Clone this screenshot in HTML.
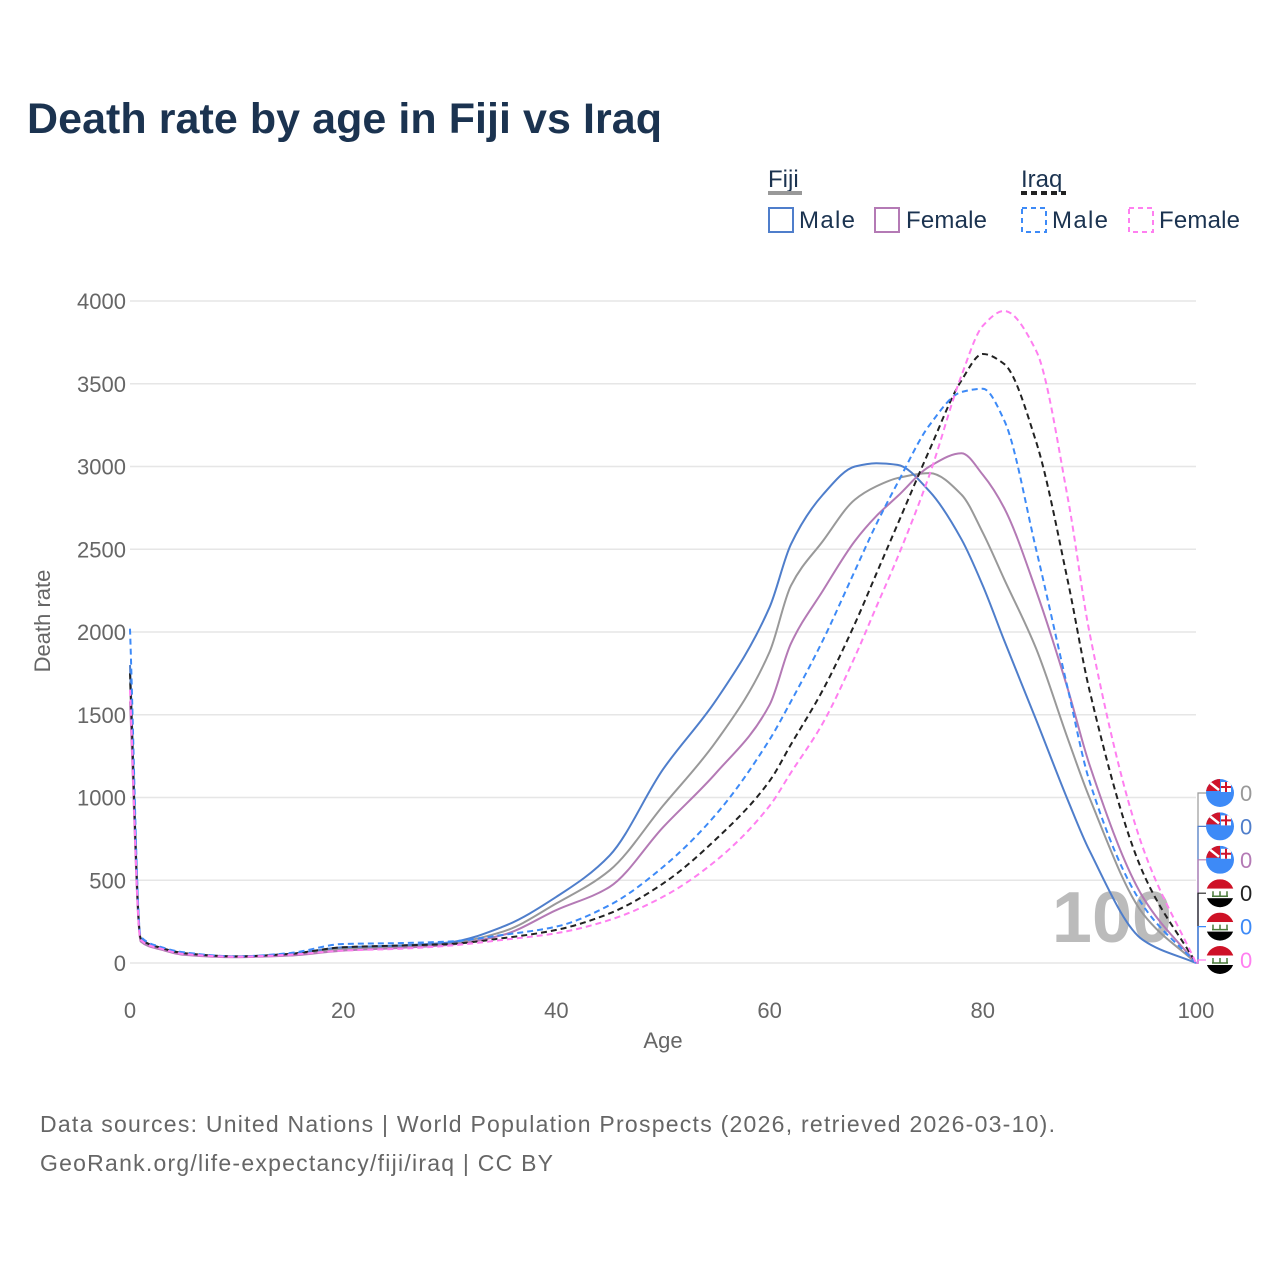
<!DOCTYPE html>
<html><head><meta charset="utf-8"><style>
body{margin:0;background:#fff;width:1280px;height:1280px;overflow:hidden;font-family:"Liberation Sans",sans-serif}
</style></head><body>
<svg width="1280" height="1280" xmlns="http://www.w3.org/2000/svg" font-family="Liberation Sans, sans-serif">
<defs><clipPath id="cc"><circle cx="0" cy="0" r="14"/></clipPath></defs>
<text x="27" y="133" font-size="43" font-weight="bold" fill="#1b3350" textLength="635">Death rate by age in Fiji vs Iraq</text>
<g fill="#1b3350" font-size="24">
<text x="768" y="187">Fiji</text>
<line x1="768" y1="193" x2="802" y2="193" stroke="#999" stroke-width="4"/>
<text x="1021" y="187">Iraq</text>
<line x1="1021" y1="193" x2="1066" y2="193" stroke="#222" stroke-width="4" stroke-dasharray="6,4"/>
<g><rect x="769" y="208" width="24" height="24" fill="none" stroke="#4f7ecb" stroke-width="2"/><text x="799" y="228" textLength="56">Male</text></g>
<g><rect x="875" y="208" width="24" height="24" fill="none" stroke="#b47ab5" stroke-width="2"/><text x="906" y="228" textLength="81">Female</text></g>
<g><rect x="1022" y="208" width="24" height="24" fill="none" stroke="#3d8af7" stroke-width="2" stroke-dasharray="5,4"/><text x="1052" y="228" textLength="56">Male</text></g>
<g><rect x="1129" y="208" width="24" height="24" fill="none" stroke="#ff7ff0" stroke-width="2" stroke-dasharray="5,4"/><text x="1159" y="228" textLength="81">Female</text></g>
</g>
<g id="grid"></g>
<text x="1112" y="942" font-size="72" font-weight="bold" fill="#bbb" text-anchor="middle">100</text>
<g id="lines"></g>
<g id="flags"></g>
<text x="663" y="1048" font-size="22" fill="#666" text-anchor="middle">Age</text>
<text transform="translate(50,621) rotate(-90)" font-size="22" fill="#666" text-anchor="middle">Death rate</text>
<text x="40" y="1132" font-size="23" fill="#666" textLength="1015">Data sources: United Nations | World Population Prospects (2026, retrieved 2026-03-10).</text>
<text x="40" y="1171" font-size="23" fill="#666" textLength="513">GeoRank.org/life-expectancy/fiji/iraq | CC BY</text>
</svg>
<script>
const ages=[0,1,3,5,10,15,20,25,30,35,40,45,50,55,60,62,65,68,70,72,75,78,80,82,85,88,90,95,100];
const fijiMale=[1800,150,90,60,40,55,95,105,125,220,400,650,1170,1590,2150,2530,2830,3000,3020,3010,2850,2560,2280,1950,1470,980,680,140,0];
const fijiTotal=[1700,140,85,55,38,50,85,100,120,190,360,560,950,1340,1880,2280,2550,2800,2880,2930,2960,2830,2600,2320,1900,1350,1000,300,0];
const fijiFemale=[1580,130,80,50,35,45,75,90,110,170,320,460,820,1150,1560,1930,2250,2550,2700,2820,3000,3080,2950,2750,2250,1650,1200,400,0];
const iraqTotal=[1750,150,90,60,40,55,95,105,115,150,200,300,480,750,1100,1320,1650,2050,2350,2650,3100,3520,3680,3620,3150,2300,1650,550,0];
const iraqMale=[2020,160,95,65,40,60,115,120,130,170,220,350,580,900,1350,1580,1950,2370,2650,2900,3250,3450,3470,3280,2500,1650,1100,350,0];
const iraqFemale=[1650,140,85,55,38,50,75,85,105,140,180,260,400,620,950,1150,1450,1850,2150,2450,2950,3550,3850,3940,3700,2800,2000,700,0];
const yTicks=[0,500,1000,1500,2000,2500,3000,3500,4000];
const xTicks=[0,20,40,60,80,100];
const endLabels=["0","0","0","0","0","0"];
const NS="http://www.w3.org/2000/svg";
const X=a=>130+a*10.66, Y=v=>963-v*0.1655;
function mk(t,at,p){const e=document.createElementNS(NS,t);for(const k in at)e.setAttribute(k,at[k]);p.appendChild(e);return e;}
const grid=document.getElementById('grid');
yTicks.forEach(v=>{
 const l=mk('line',{x1:130,x2:1196,y1:Y(v),y2:Y(v),stroke:'#e6e6e6','stroke-width':1.5},grid);
 
 
 const t=mk('text',{x:126,y:Y(v)+8,'font-size':22,fill:'#666','text-anchor':'end'},grid);t.textContent=v;
 
 
});
xTicks.forEach(v=>{
 const t=mk('text',{x:X(v),y:1018,'font-size':22,fill:'#666','text-anchor':'middle'},grid);t.textContent=v;
 
 
});
function monotone(xs,ys){
 const n=xs.length,d=[],m=[];
 for(let i=0;i<n-1;i++)d.push((ys[i+1]-ys[i])/(xs[i+1]-xs[i]));
 m[0]=d[0];m[n-1]=d[n-2];
 for(let i=1;i<n-1;i++){if(d[i-1]*d[i]<=0)m[i]=0;else{const h0=xs[i]-xs[i-1],h1=xs[i+1]-xs[i];m[i]=3*(h0+h1)/((2*h1+h0)/d[i-1]+(h1+2*h0)/d[i]);}}
 let p=`M${xs[0]},${ys[0]}`;
 for(let i=0;i<n-1;i++){const h=(xs[i+1]-xs[i])/3;p+=`C${xs[i]+h},${ys[i]+m[i]*h} ${xs[i+1]-h},${ys[i+1]-m[i+1]*h} ${xs[i+1]},${ys[i+1]}`;}
 return p;
}
const series=[
 ['fiji-total',fijiTotal,'#999',null],
 ['fiji-male',fijiMale,'#4f7ecb',null],
 ['fiji-female',fijiFemale,'#b47ab5',null],
 ['iraq-total',iraqTotal,'#222','6,4'],
 ['iraq-male',iraqMale,'#3d8af7','6,4'],
 ['iraq-female',iraqFemale,'#ff7ff0','6,4']];
const lines=document.getElementById('lines');
series.forEach(s=>{
 const at={d:monotone(ages.map(X),s[1].map(Y)),fill:'none',stroke:s[2],'stroke-width':2};
 if(s[3])at['stroke-dasharray']=s[3];
 const p=mk('path',at,lines);
 
 
});
const flags=document.getElementById('flags');
series.forEach((s,i)=>{
 const y=793+i*33.4,fiji=i<3;
 mk('polyline',{points:`1196,${Y(0)} 1198,${Y(0)} 1198,${y} 1206,${y}`,fill:'none',stroke:s[2],'stroke-width':1.2},flags);
 const g=mk('g',{transform:`translate(1220,${y})`,'clip-path':'url(#cc)'},flags);
 
 
 if(fiji){
  mk('rect',{x:-14,y:-14,width:28,height:28,fill:'#3d8af7'},g);
  mk('rect',{x:-14,y:-14,width:14,height:12,fill:'#cf142b'},g);
  mk('path',{d:'M-11 -11L-1 -3',stroke:'#fff','stroke-width':2.5},g);
  mk('rect',{x:1,y:-11,width:10,height:10,fill:'#fff'},g);
  mk('path',{d:'M1 -6h10M6 -11v10',stroke:'#cf142b','stroke-width':2},g);
 }else{
  mk('rect',{x:-14,y:-14,width:28,height:9.5,fill:'#ce1126'},g);
  mk('rect',{x:-14,y:-4.5,width:28,height:9.5,fill:'#fff'},g);
  mk('rect',{x:-14,y:5,width:28,height:9.5,fill:'#000'},g);
  mk('path',{d:'M-8 3h16M-7 -2v5M0 -2v5M7 -2v5',stroke:'#4a7a3a','stroke-width':1.5,fill:'none'},g);
 }
 const t=mk('text',{x:1240,y:y+8,'font-size':22,fill:s[2]},flags);t.textContent=endLabels[i];
 
 
});
</script>
</body></html>
